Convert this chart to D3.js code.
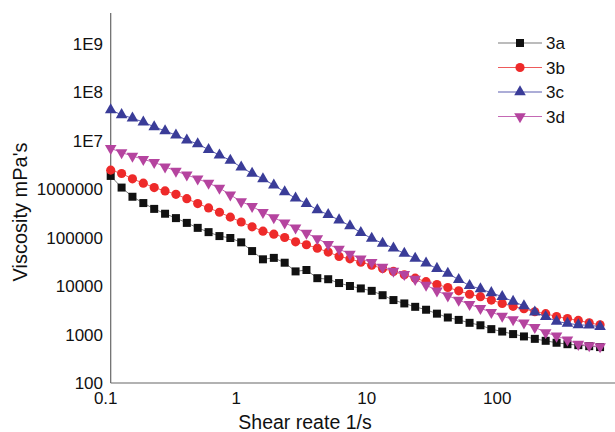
<!DOCTYPE html>
<html><head><meta charset="utf-8">
<script src="https://cdn.jsdelivr.net/npm/d3@7"></script>
<style>body{margin:0;background:#fff}svg{display:block;font-family:"Liberation Sans",Arial,sans-serif}</style>
</head><body><svg id="c" width="615" height="432"></svg>
<script>
const shearRate = [0.1,0.1212,0.1468,0.1778,0.2154,0.261,0.3162,0.3831,0.4642,0.5623,0.6813,0.8254,
  1,1.212,1.468,1.778,2.154,2.61,3.162,3.831,4.642,5.623,6.813,8.254,
  10,12.12,14.68,17.78,21.54,26.1,31.62,38.31,46.42,56.23,68.13,82.54,
  100,121.2,146.8,177.8,215.4,261,316.2,383.1,464.2,562.3];
const s3a = [1860000,1070000,692000,513000,389000,309000,251000,200000,158000,129000,107000,97700,
  79400,52500,35500,38000,30200,20000,21400,14500,13800,11500,10000,8910,
  7940,6460,5130,4370,3720,3240,2690,2240,2000,1740,1550,1290,
  1150,1020,912,813,741,676,631,603,575,550];
const s3b = [2450000,2090000,1620000,1320000,1070000,912000,776000,631000,501000,407000,331000,263000,
  209000,166000,135000,117000,100000,81300,70800,60300,50100,40700,36300,30900,
  26900,22900,20000,17000,14500,12300,10700,9330,7940,6760,6030,5130,
  4370,3800,3390,2950,2690,2340,2140,1950,1740,1580];
const s3c = [42700000,33900000,28800000,24000000,19100000,15800000,12900000,10200000,8510000,6460000,5010000,3890000,
  2820000,2090000,1620000,1200000,871000,646000,501000,372000,295000,229000,174000,126000,
  95500,75900,60300,46800,37200,29500,22900,18200,13500,10200,8710,7240,
  6030,4790,3890,2880,2340,1860,1700,1580,1550,1450];
const s3d = [6920000,5620000,4790000,4070000,3550000,2880000,2340000,1950000,1620000,1320000,1050000,759000,
  550000,437000,331000,257000,200000,158000,123000,95500,72400,57500,45700,36300,
  30900,24500,20400,17400,13800,10500,7940,6310,5130,4170,3470,2880,
  2400,2040,1740,1410,1100,933,776,631,589,562];
const seriesNames = ["3a","3b","3c","3d"];
const xTicks = [0.1,1,10,100];
const xTickLabels = ["0.1","1","10","100"];
const yTicks = [100,1000,10000,100000,1000000,1e7,1e8,1e9];
const yTickLabels = ["100","1000","10000","100000","1000000","1E7","1E8","1E9"];

const svg = d3.select("#c");
const L = 110.7, B = 383, T = 13;
const decX = 130.5, decY = 48.5;
const x = d3.scaleLog().domain([0.1, 1000]).range([L, L + 4*decX]);
const y = d3.scaleLog().domain([100, Math.pow(10, 2 + (B - T)/decY)]).range([B, T]);

const styles = [
  {name:"3a", data:s3a, fill:"#111111", line:"#7a7a7a", sym:d3.symbolSquare, size:64, rot:0},
  {name:"3b", data:s3b, fill:"#ee2a2a", line:"#ee5a5a", sym:d3.symbolCircle, size:66, rot:0},
  {name:"3c", data:s3c, fill:"#3a3c98", line:"#5a5cb0", sym:d3.symbolTriangle, size:58, rot:0},
  {name:"3d", data:s3d, fill:"#b5449f", line:"#c468b4", sym:d3.symbolTriangle, size:58, rot:180}
];

// axes lines
svg.append("line").attr("x1",L).attr("x2",L).attr("y1",T).attr("y2",B).attr("stroke","#666").attr("stroke-width",1.2);
svg.append("line").attr("x1",L).attr("x2",615).attr("y1",B).attr("y2",B).attr("stroke","#666").attr("stroke-width",1.2);

// y tick labels
svg.append("g").selectAll("text").data(yTicks).join("text")
  .attr("x",103).attr("y",d=>y(d)+6).attr("text-anchor","end")
  .attr("font-size",17).attr("fill","#111").text((d,i)=>yTickLabels[i]);
// x tick labels
svg.append("g").selectAll("text").data(xTicks).join("text")
  .attr("x",d=>x(d)-5).attr("y",404).attr("text-anchor","middle")
  .attr("font-size",17).attr("fill","#111").text((d,i)=>xTickLabels[i]);

// titles
svg.append("text").attr("x",305).attr("y",429).attr("text-anchor","middle")
  .attr("font-size",19.5).attr("fill","#111").text("Shear reate 1/s");
svg.append("text").attr("transform","translate(27,212) rotate(-90)").attr("text-anchor","middle")
  .attr("font-size",20).attr("fill","#111").text("Viscosity mPa's");

const line = d3.line().x((d,i)=>x(shearRate[i])).y(d=>y(d));
styles.forEach(s=>{
  const g = svg.append("g");
  g.append("path").datum(s.data).attr("d",line).attr("fill","none").attr("stroke",s.line).attr("stroke-width",1);
  g.selectAll("path.m").data(s.data).join("path").attr("class","m")
    .attr("d",d3.symbol(s.sym,s.size))
    .attr("transform",(d,i)=>`translate(${x(shearRate[i])},${y(d)}) rotate(${s.rot})`)
    .attr("fill",s.fill);
});

// legend
const lg = svg.append("g");
styles.forEach((s,i)=>{
  const yy = 43 + i*24.5;
  lg.append("line").attr("x1",498).attr("x2",542).attr("y1",yy).attr("y2",yy).attr("stroke",s.line).attr("stroke-width",1.2);
  lg.append("path").attr("d",d3.symbol(s.sym,s.size)).attr("transform",`translate(520,${yy}) rotate(${s.rot})`).attr("fill",s.fill);
  lg.append("text").attr("x",546).attr("y",yy+6).attr("font-size",17).attr("fill","#111").text(seriesNames[i]);
});
</script></body></html>
